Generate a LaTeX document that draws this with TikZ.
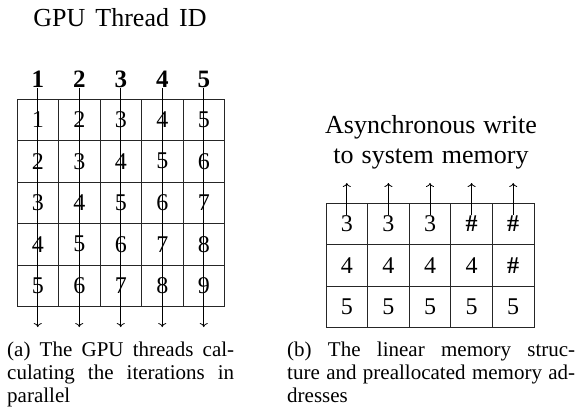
\documentclass[tikz,border=0pt]{standalone}
\usepackage{fontspec}
\setmainfont{Liberation Serif}
\usetikzlibrary{arrows.meta}
\tikzset{
  cellbox/.style={draw=black!85, line width=0.8pt, minimum width=41.5pt, minimum height=41.5pt,
    inner sep=0pt, outer sep=0pt, font=\fontsize{24}{24}\selectfont},
  headnum/.style={anchor=base, inner sep=0pt, font=\fontsize{25}{25}\selectfont\bfseries},
  titletext/.style={anchor=base, inner sep=0pt, font=\fontsize{26}{30}\selectfont},
  captext/.style={anchor=base west, inner sep=0pt, font=\fontsize{21}{23}\selectfont},
  threadline/.style={line width=0.8pt, -{To[length=4pt,width=8pt]}},
}
\begin{document}
\begin{tikzpicture}[x=1pt,y=-1pt]
\useasboundingbox (0,0) rectangle (586,409);

% ---- left: thread grid ----
\node[titletext] (gputitle) at (120,27) {GPU\hspace{10pt}Thread\hspace{10pt}ID};
\foreach \c in {1,...,5} {
  \node[headnum] (h\c) at ({17+41.5*(\c-0.5)},88) {\c};
  \foreach \r in {1,...,5} {
    \pgfmathtruncatemacro{\v}{\r+\c-1}
    \node[cellbox] (a\r\c) at ({17+41.5*(\c-0.5)},{99+41.5*(\r-0.5)}) {\v};
  }
  \coordinate (e\c) at ({17+41.5*(\c-0.5)},327);
  \draw[threadline] (h\c.south) -- (e\c);
}
\node[captext] (capa1) at (7,356) {\makebox[227pt][s]{(a) The GPU threads cal-}};
\node[captext] (capa2) at (7,379) {\makebox[227pt][s]{culating the iterations in}};
\node[captext] (capa3) at (7,402) {parallel};

% ---- right: memory layout ----
\node[titletext] (wr1) at (431,134) {Asynchronous\hspace{8pt}write};
\node[titletext] (wr2) at (431,163) {to\hspace{8pt}system\hspace{8pt}memory};
\foreach \c/\p/\q/\s in {1/3/4/5, 2/3/4/5, 3/3/4/5, 4/\textbf{\#}/4/5, 5/\textbf{\#}/\textbf{\#}/5} {
  \node[cellbox] (b1\c) at ({326+41.6*(\c-0.5)},223.8) {\p};
  \node[cellbox] (b2\c) at ({326+41.6*(\c-0.5)},265.4) {\q};
  \node[cellbox] (b3\c) at ({326+41.6*(\c-0.5)},307) {\s};
  \coordinate (t\c) at ({326+41.6*(\c-0.5)},183);
  \draw[threadline] ([yshift=9pt]b1\c.center) -- (t\c);
}
\node[captext] (capb1) at (287,356) {\makebox[288pt][s]{(b) The linear memory struc-}};
\node[captext] (capb2) at (287,379) {\makebox[288pt][s]{ture and preallocated memory ad-}};
\node[captext] (capb3) at (287,402) {dresses};
\end{tikzpicture}
\end{document}
